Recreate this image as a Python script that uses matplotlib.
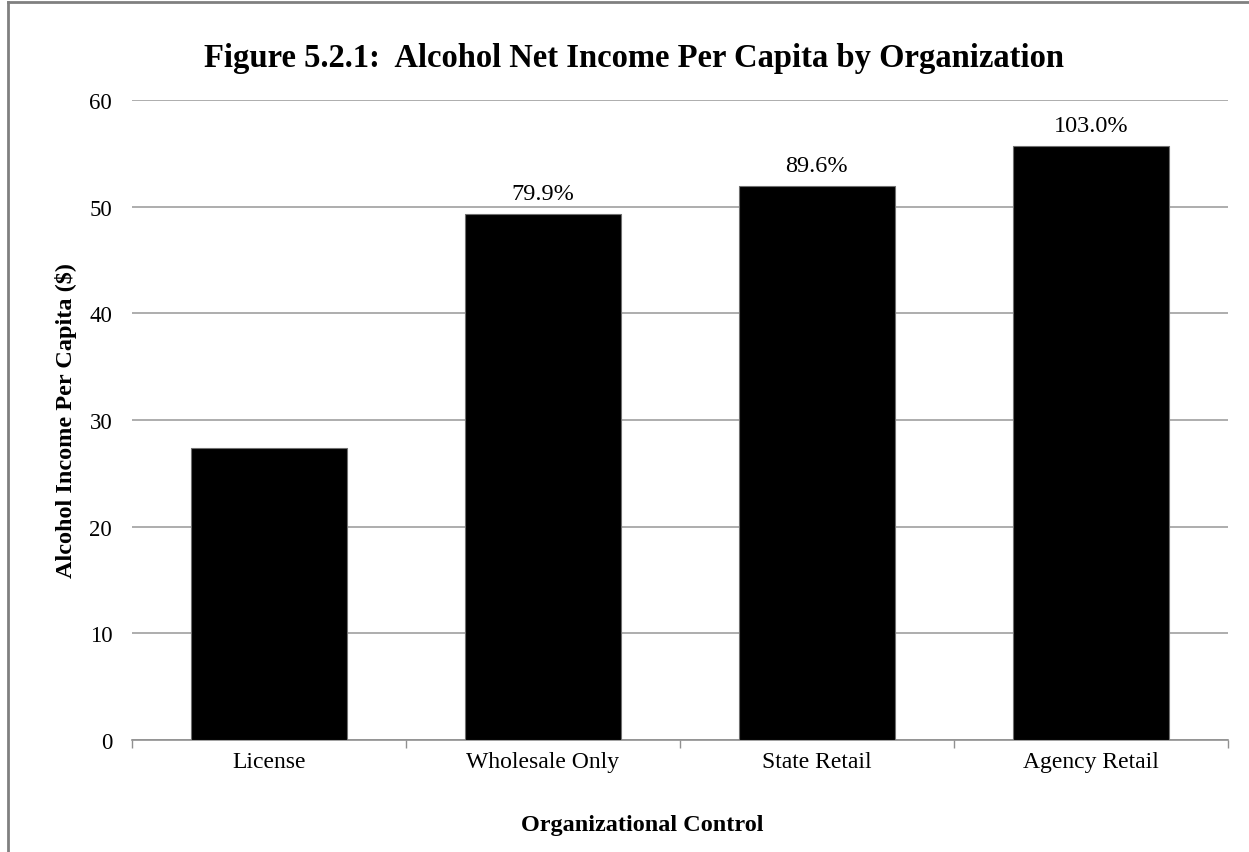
import matplotlib
matplotlib.use("Agg")
import matplotlib.pyplot as plt
from matplotlib.lines import Line2D

categories = ["License", "Wholesale Only", "State Retail", "Agency Retail"]
values = [27.4, 49.3, 51.9, 55.7]
labels = ["", "79.9%", "89.6%", "103.0%"]
yticks = [0, 10, 20, 30, 40, 50, 60]

plt.rcParams['font.family'] = ['Liberation Serif', 'DejaVu Serif']

fig = plt.figure(figsize=(12.49, 8.53), dpi=100)
ax = fig.add_axes([0.1054, 0.1313, 0.983 - 0.1054, 0.8816 - 0.1313])

x = list(range(len(categories)))
ax.bar(x, values, width=0.57, color='black', edgecolor='#707070', linewidth=0.8, zorder=3)
for xi, v, lab in zip(x, values, labels):
    if lab:
        ax.annotate(lab, (xi, v), xytext=(0, 11), textcoords='offset points',
                    ha='center', va='baseline', fontsize=17.5)

ax.set_xlim(-0.5, len(categories) - 0.5)
ax.set_ylim(0, 60)
ax.set_yticks(yticks)
ax.set_yticklabels([str(t) for t in yticks], fontsize=16.5)
ax.set_xticks(x)
ax.set_xticklabels(categories, fontsize=17)
ax.tick_params(axis='y', length=0, pad=14)
ax.tick_params(axis='x', length=0, pad=8)
ax.set_xticks([i - 0.5 for i in range(len(categories) + 1)], minor=True)
ax.tick_params(axis='x', which='minor', length=6, color='#909090', width=1, direction='out')

ax.grid(axis='y', color='#a0a0a0', linewidth=1.2, zorder=0)
ax.set_axisbelow(True)
for s in ['left', 'right', 'top']:
    ax.spines[s].set_visible(False)
ax.spines['bottom'].set_color('#909090')
ax.spines['bottom'].set_linewidth(1.2)

ax.set_ylabel("Alcohol Income Per Capita ($)", fontsize=17.5, fontweight='bold')
ax.yaxis.set_label_coords(-0.050, 0.5)
ax.set_xlabel("Organizational Control", fontsize=17.5, fontweight='bold', va='center')
ax.xaxis.set_label_coords(0.466, -0.132)
fig.text(0.508, 0.921, "Figure 5.2.1:  Alcohol Net Income Per Capita by Organization",
         ha='center', va='baseline', fontsize=23.5, fontweight='bold')

fig.add_artist(Line2D([0.0064, 1.0], [0.9965, 0.9965], transform=fig.transFigure, color='#808080', linewidth=2))
fig.add_artist(Line2D([0.0064, 0.0064], [0.0, 0.9965], transform=fig.transFigure, color='#808080', linewidth=2))

fig.savefig("out.png", dpi=100)
